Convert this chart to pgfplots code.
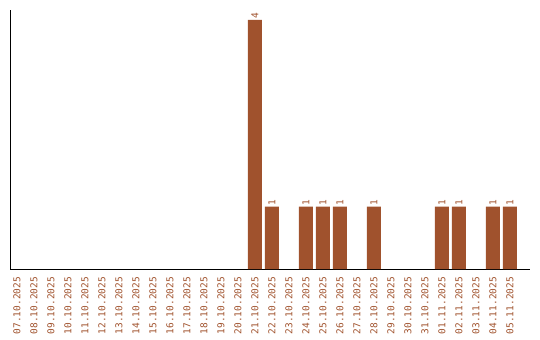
\documentclass[border=0pt]{standalone}
\usepackage{pgfplots}
\pgfplotsset{compat=1.18}
\usepackage{fontspec}
\newfontfamily\monofont{DejaVu Sans Mono}
\definecolor{barc}{HTML}{A0522D}
\begin{document}
\begin{tikzpicture}
\path[use as bounding box] (0,0) rectangle (540bp,340bp);
\begin{axis}[
  at={(10bp,71bp)}, anchor=south west,
  scale only axis, width=520bp, height=259bp,
  xmin=-0.41, xmax=30.18, ymin=0, ymax=4.16,
  axis x line*=bottom, axis y line*=left,
  axis line style={line width=1bp, -},
  ytick=\empty,
  xtick={0,...,29},
  xticklabels={07.10.2025,08.10.2025,09.10.2025,10.10.2025,11.10.2025,12.10.2025,13.10.2025,14.10.2025,15.10.2025,16.10.2025,17.10.2025,18.10.2025,19.10.2025,20.10.2025,21.10.2025,22.10.2025,23.10.2025,24.10.2025,25.10.2025,26.10.2025,27.10.2025,28.10.2025,29.10.2025,30.10.2025,31.10.2025,01.11.2025,02.11.2025,03.11.2025,04.11.2025,05.11.2025},
  major tick length=0pt,
  xticklabel style={yshift=-8bp, rotate=90, anchor=east, font=\monofont\fontsize{9.5}{10}\selectfont, text=barc, inner sep=0pt},
  ybar, bar width=14bp,
  nodes near coords={\monofont\fontsize{9.5}{10}\selectfont\pgfmathprintnumber[assume math mode=true]{\pgfplotspointmeta}},
  every node near coord/.append style={rotate=90, anchor=west, text=barc, inner sep=1bp},
  clip=false,
]
\addplot[fill=barc, draw=none] coordinates {
(14,4) (15,1) (17,1) (18,1) (19,1) (21,1) (25,1) (26,1) (28,1) (29,1)
};
\end{axis}
\end{tikzpicture}
\end{document}
